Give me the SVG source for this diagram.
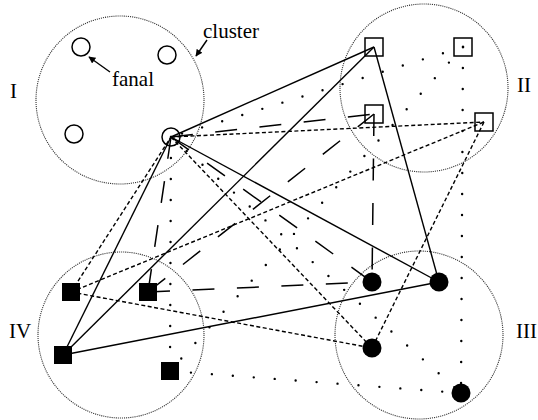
<svg xmlns="http://www.w3.org/2000/svg" width="538" height="420" viewBox="0 0 538 420">
<defs>
<style>
.cl{fill:none;stroke:#333;stroke-width:1.1;stroke-dasharray:1.1,1}
.s{stroke:#000;stroke-width:1.4;fill:none}
.d{stroke:#000;stroke-width:1.4;fill:none;stroke-dasharray:4,2.5}
.l{stroke:#000;stroke-width:1.5;fill:none;stroke-dasharray:22,22.5}
.o{stroke:#000;stroke-width:2.4;fill:none;stroke-linecap:round;stroke-dasharray:0,21}
.on{fill:none;stroke:#000;stroke-width:1.5}
.fn{fill:#000;stroke:none}
.t{font-family:"Liberation Serif","Times New Roman",serif;font-size:21px;fill:#000}
</style>
<marker id="ah" viewBox="0 0 10 10" refX="9" refY="5" markerWidth="7" markerHeight="7" orient="auto" markerUnits="userSpaceOnUse">
<path d="M0,0 L10,5 L0,10 z" fill="#000"/>
</marker>
</defs>
<rect width="538" height="420" fill="#fff"/>
<g id="clusters">
<circle id="cluster-I" class="cl" cx="120" cy="100" r="84"/>
<circle id="cluster-II" class="cl" cx="424" cy="88" r="84"/>
<circle id="cluster-III" class="cl" cx="419" cy="335" r="84"/>
<circle id="cluster-IV" class="cl" cx="121" cy="335" r="83"/>
</g>
<g id="connectors">
<line class="s" x1="171" y1="137" x2="374" y2="47"/>
<line class="s" x1="63" y1="355" x2="374" y2="47"/>
<line class="s" x1="63" y1="355" x2="439" y2="282"/>
<line class="s" x1="171" y1="137" x2="439" y2="282"/>
<line class="s" x1="374" y1="47" x2="439" y2="282"/>
<line class="s" x1="171" y1="137" x2="63" y2="355"/>
<line class="d" x1="171" y1="137" x2="484" y2="122"/>
<line class="d" x1="71" y1="292" x2="484" y2="122"/>
<line class="d" x1="71" y1="292" x2="372" y2="348"/>
<line class="d" x1="171" y1="137" x2="372" y2="348"/>
<line class="d" x1="484" y1="122" x2="372" y2="348"/>
<line class="d" x1="71" y1="292" x2="171" y2="137"/>
<line class="l" x1="171" y1="137" x2="374" y2="114"/>
<line class="l" x1="148" y1="292" x2="374" y2="114"/>
<line class="l" x1="374" y1="114" x2="372" y2="282"/>
<line class="l" x1="148" y1="292" x2="372" y2="282"/>
<line class="l" x1="171" y1="137" x2="372" y2="282"/>
<line class="l" x1="171" y1="137" x2="148" y2="292"/>
<line class="o" x1="463" y1="47" x2="171" y2="137"/>
<line class="o" x1="463" y1="47" x2="461" y2="393"/>
<line class="o" x1="463" y1="47" x2="170" y2="371"/>
<line class="o" x1="170" y1="371" x2="461" y2="393"/>
<line class="o" x1="171" y1="137" x2="461" y2="393"/>
<line class="o" x1="171" y1="137" x2="170" y2="371"/>
<line class="s" x1="110" y1="72" x2="89" y2="57" stroke-width="1.2" marker-end="url(#ah)"/>
<line class="s" x1="207" y1="40" x2="196" y2="56" stroke-width="1.2" marker-end="url(#ah)"/>
</g>
<g id="node-I-1"><circle class="on" cx="81" cy="47" r="9"/></g>
<g id="node-I-2"><circle class="on" cx="167" cy="55" r="9"/></g>
<g id="node-I-3"><circle class="on" cx="74" cy="134" r="9"/></g>
<g id="node-I-hub"><circle class="on" cx="171" cy="137" r="9"/></g>
<g id="node-II-1"><rect class="on" x="365" y="38" width="18" height="18"/></g>
<g id="node-II-2"><rect class="on" x="454" y="38" width="18" height="18"/></g>
<g id="node-II-3"><rect class="on" x="365" y="105" width="18" height="18"/></g>
<g id="node-II-4"><rect class="on" x="475" y="113" width="18" height="18"/></g>
<g id="node-III-1"><circle class="fn" cx="372" cy="282" r="9.5"/></g>
<g id="node-III-2"><circle class="fn" cx="439" cy="282" r="9.5"/></g>
<g id="node-III-3"><circle class="fn" cx="372" cy="348" r="9.5"/></g>
<g id="node-III-4"><circle class="fn" cx="461" cy="393" r="9.5"/></g>
<g id="node-IV-1"><rect class="fn" x="62" y="283" width="18" height="18"/></g>
<g id="node-IV-2"><rect class="fn" x="139" y="283" width="18" height="18"/></g>
<g id="node-IV-3"><rect class="fn" x="54" y="346" width="18" height="18"/></g>
<g id="node-IV-4"><rect class="fn" x="161" y="362" width="18" height="18"/></g>
<g id="labels">
<text class="t" x="10" y="98">I</text>
<text class="t" x="517" y="92">II</text>
<text class="t" x="516" y="338">III</text>
<text class="t" x="9" y="338">IV</text>
<text class="t" x="112" y="86">fanal</text>
<text class="t" x="203" y="38">cluster</text>
</g>
</svg>
